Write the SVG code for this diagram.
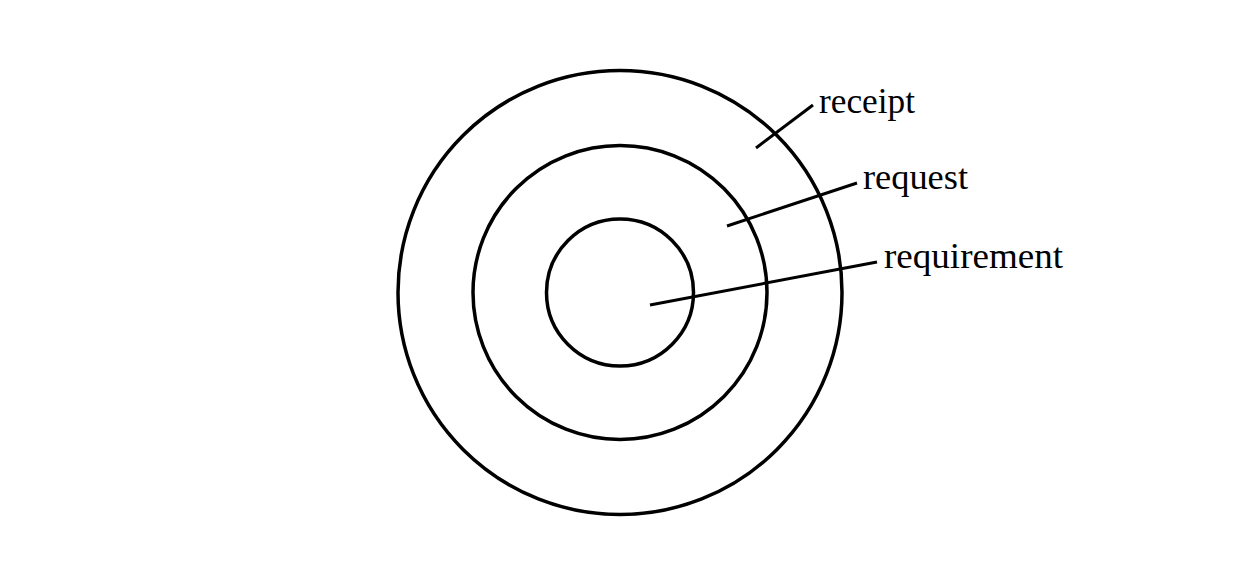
<svg xmlns="http://www.w3.org/2000/svg" width="1240" height="586" viewBox="0 0 1240 586">
<style>
.ring{fill:none;stroke:#000;stroke-width:3.5}
.lead{stroke:#000;stroke-width:3;fill:none}
.lbl{font-family:"Liberation Serif",serif;font-size:35px;fill:#000}
</style>
<rect width="1240" height="586" fill="#fff"/>
<g id="outer"><circle class="ring" cx="620" cy="292.5" r="222"/></g>
<g id="middle"><circle class="ring" cx="620" cy="292.5" r="147"/></g>
<g id="inner"><circle class="ring" cx="620" cy="292.5" r="73.5"/></g>
<g id="connectors">
<line class="lead" x1="756" y1="148" x2="813" y2="105"/>
<line class="lead" x1="727" y1="226" x2="857" y2="183"/>
<line class="lead" x1="650" y1="305" x2="877" y2="262"/>
</g>
<g id="labels">
<text class="lbl" x="819" y="113" textLength="96" lengthAdjust="spacingAndGlyphs">receipt</text>
<text class="lbl" x="863" y="189" textLength="105" lengthAdjust="spacingAndGlyphs">request</text>
<text class="lbl" x="884" y="268" textLength="179" lengthAdjust="spacingAndGlyphs">requirement</text>
</g>
</svg>
